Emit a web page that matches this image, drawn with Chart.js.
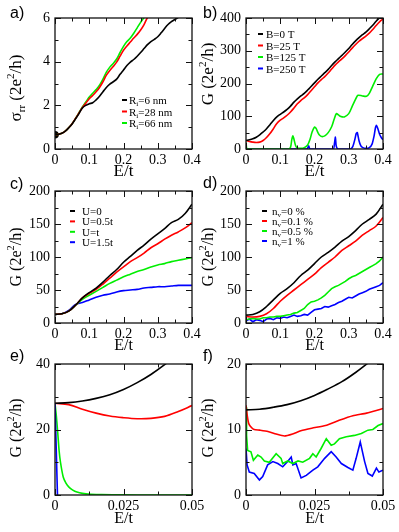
<!DOCTYPE html>
<html>
<head>
<meta charset="utf-8">
<script src="https://cdn.jsdelivr.net/npm/chart.js@4.4.1/dist/chart.umd.min.js"></script>
<style>
  body { margin: 0; background: #fff; }
  #wrap { position: relative; width: 399px; height: 532px; }
  #wrap canvas { position: absolute; left: 0; top: 0; }
</style>
</head>
<body>
<div id="wrap">
  <canvas id="pa" width="399" height="532"></canvas>
  <canvas id="pb" width="399" height="532"></canvas>
  <canvas id="pc" width="399" height="532"></canvas>
  <canvas id="pd" width="399" height="532"></canvas>
  <canvas id="pe" width="399" height="532"></canvas>
  <canvas id="pf" width="399" height="532"></canvas>
</div>
<script>
// ---- data ----
// a) sigma_rr vs E/t for three inner radii
const A_X   = [0,0.01,0.02,0.03,0.04,0.05,0.06,0.07,0.08,0.09,0.1,0.11,0.12,0.13,0.14,0.15,0.16,0.17,0.18,0.19,0.2,0.21,0.22,0.23,0.24,0.25,0.26,0.27,0.28,0.29,0.3,0.31,0.32,0.33,0.34,0.35,0.36,0.37];
const A_R6  = [0.65,0.67,0.72,0.82,0.97,1.15,1.38,1.62,1.88,2.0,2.07,2.12,2.25,2.42,2.62,2.82,2.97,3.08,3.2,3.42,3.62,3.82,3.98,4.1,4.25,4.42,4.6,4.78,4.92,5.02,5.14,5.32,5.52,5.7,5.83,5.93,6.03,6.15];
const A_R28 = [0.65,0.67,0.72,0.82,0.97,1.16,1.4,1.65,1.9,2.1,2.3,2.45,2.62,2.82,3.08,3.38,3.6,3.78,3.98,4.25,4.52,4.72,4.9,5.08,5.25,5.45,5.7,6.02,6.25];
const A_R66 = [0.65,0.67,0.72,0.82,0.97,1.16,1.4,1.66,1.93,2.15,2.38,2.55,2.72,2.92,3.2,3.52,3.75,3.92,4.12,4.42,4.7,4.92,5.08,5.3,5.55,5.8,6.02,6.25];

// b) G vs E/t for four magnetic fields
const B_X    = [0,0.01,0.02,0.03,0.04,0.05,0.06,0.07,0.08,0.09,0.1,0.11,0.12,0.13,0.14,0.15,0.16,0.17,0.18,0.19,0.2,0.21,0.22,0.23,0.24,0.25,0.26,0.27,0.28,0.29,0.3,0.31,0.32,0.33,0.34,0.35,0.36,0.37,0.38,0.39,0.4];
const B_B0   = [26,28,31,36,43,52,62,74,87,98,106,113,121,131,143,153,162,170,180,191,202,213,223,233,243,255,266,276,286,296,307,319,330,340,349,357,367,378,390,401,412];
const B_B25  = [26,23,21,20,21,26,35,47,62,78,88,95,103,113,125,138,148,156,166,178,190,202,212,221,232,244,256,266,275,285,296,308,319,329,337,345,354,365,377,388,397];
const B_X125 = [0,0.002,0.005,0.125,0.13,0.134,0.137,0.14,0.145,0.15,0.16,0.17,0.18,0.187,0.193,0.2,0.205,0.21,0.215,0.221,0.23,0.24,0.25,0.257,0.264,0.27,0.277,0.287,0.3,0.31,0.32,0.327,0.34,0.352,0.36,0.37,0.38,0.39,0.4];
const B_B125 = [20,2,0,0,5,30,40,30,10,3,2,4,12,30,52,67,62,50,42,38,40,50,68,90,108,104,99,98,108,130,152,164,162,161,170,192,214,228,229];
const B_X250 = [0,0.178,0.183,0.186,0.19,0.255,0.258,0.261,0.263,0.266,0.27,0.305,0.312,0.318,0.322,0.325,0.33,0.335,0.34,0.35,0.36,0.368,0.374,0.378,0.381,0.385,0.39,0.395,0.4];
const B_B250 = [0,0,10,0,0,0,15,36,12,2,0,0,8,30,48,50,25,10,5,2,4,15,40,65,72,62,45,35,28];

// c) G vs E/t for disorder strength U
const C_X   = [0,0.02,0.04,0.06,0.08,0.1,0.12,0.14,0.16,0.18,0.2,0.22,0.24,0.26,0.28,0.3,0.32,0.34,0.36,0.38,0.4];
const C_U0  = [13,14,18,27,38,46,53,62,72,81,92,101,110,118,127,135,143,152,157,166,180];
const C_U05 = [13,14,18,27,38,45,51,59,68,77,85,93,99,106,114,120,127,133,138,144,152];
const C_U1  = [13,14,18,27,36,42,48,54,60,65,70,74,78,81,85,88,90,93,95,97,99];
const C_U15 = [13,14,19,28,31,35,39,42,44,47,49,50,51,53,54,55,55,56,57,57,57];

// d) G vs E/t for vacancy concentration n_v
const D_X   = [0,0.02,0.04,0.06,0.08,0.1,0.12,0.14,0.16,0.18,0.2,0.22,0.24,0.26,0.28,0.3,0.32,0.34,0.36,0.38,0.4];
const D_N0  = [12,13,17,25,35,45,52,61,72,80,90,100,107,115,124,131,140,150,157,165,180];
const D_N01 = [10,9,10,14,22,33,42,50,58,66,74,84,92,100,110,117,124,133,140,147,160];
const D_XF  = [0,0.01,0.02,0.03,0.04,0.05,0.06,0.07,0.08,0.09,0.1,0.11,0.12,0.13,0.14,0.15,0.16,0.17,0.18,0.19,0.2,0.21,0.22,0.23,0.24,0.25,0.26,0.27,0.28,0.29,0.3,0.31,0.32,0.33,0.34,0.35,0.36,0.37,0.38,0.39,0.4];
const D_N05 = [5,6,7,6,6,8,8,9,9,10,10,11,12,13,15,16,19,22,28,32,33,35,38,42,47,52,55,57,60,63,67,70,72,75,78,81,84,87,90,94,100];
const D_N1  = [3,6,2,5,4,2,6,7,5,8,7,9,8,10,12,10,11,13,12,16,20,21,22,25,24,26,28,31,33,36,39,38,41,44,46,48,51,53,55,57,61];

// e) low-energy zoom of c)
const E_X  = [0,0.005,0.01,0.015,0.02,0.025,0.03,0.035,0.04,0.045,0.05];
const E_U0  = [28,28.2,28.7,29.5,30.6,32.2,34.3,36.8,39.8,43.2];
const E_U05 = [28,27.6,26.2,25.0,24.1,23.6,23.3,23.4,24.0,25.5,27.3];
const E_XG  = [0,0.0005,0.001,0.0015,0.002,0.003,0.004,0.005,0.0065,0.008,0.01,0.013,0.017,0.025,0.035,0.05];
const E_U1  = [28,24,19,13.5,10,5.5,3.6,2.5,1.5,0.9,0.5,0.25,0.1,0.05,0,0];
const E_XB  = [0,0.0009,0.0012];
const E_U15 = [28,0,0];

// f) low-energy zoom of d)
const F_X   = [0,0.005,0.01,0.015,0.02,0.025,0.03,0.035,0.04,0.045];
const F_N0  = [13,13.1,13.4,13.8,14.4,15.2,16.2,17.3,18.7,20.3];
const F_XR  = [0,0.0005,0.001,0.002,0.003,0.005,0.008,0.011,0.014,0.017,0.02,0.024,0.029,0.034,0.039,0.044,0.05];
const F_N01 = [13.7,12,10.9,10.3,10.0,9.9,9.7,9.3,9.0,9.3,9.8,10.2,10.6,11.4,12.1,12.5,13.2];
const F_XG  = [0,0.0002,0.0006,0.0018,0.0027,0.0043,0.0055,0.0067,0.0085,0.011,0.0128,0.0134,0.0152,0.0171,0.019,0.0207,0.0232,0.0244,0.0256,0.0274,0.0293,0.0311,0.0323,0.0341,0.0366,0.0396,0.0421,0.0445,0.0463,0.0482,0.05];
const F_N05 = [13.4,9.1,6.8,6.6,5.3,6.1,5.8,5.2,5.0,6.3,5.6,4.8,5.2,4.8,5.2,5.0,5.6,6.3,5.8,7.1,8.6,7.6,7.8,8.6,8.9,9.1,9.4,9.9,10.0,10.6,10.9];
const F_XB  = [0,0.0004,0.0012,0.003,0.0049,0.0061,0.0079,0.0098,0.0116,0.0134,0.0152,0.0165,0.0171,0.0183,0.0201,0.022,0.0244,0.0262,0.0287,0.0311,0.0329,0.0348,0.0372,0.039,0.0402,0.0417,0.0433,0.0445,0.0461,0.0476,0.0485,0.05];
const F_N1  = [7.1,4.6,3.5,3.3,2.3,2.8,4.6,5.1,4.8,4.3,5.1,5.8,4.6,4.8,2.6,3.0,3.8,4.3,5.6,6.6,5.8,4.8,4.2,3.8,5.6,8.1,5.1,3.3,2.9,4.1,3.5,3.8];

const BLACK = '#000000';
const RED   = '#ff0000';
const GREEN = '#00ee00';
const BLUE  = '#0000ff';
const SERIF = '"Liberation Serif", "DejaVu Serif", serif';
const SANS  = '"Liberation Sans", Arial, sans-serif';
const W = 399, H = 532;

const zip = (xs, ys) => ys.map((y, i) => ({ x: xs[i], y }));

// tiny markup: ^x or ^{..} superscript, _x or _{..} subscript
function parseRich(s) {
  const out = []; let i = 0, buf = '';
  while (i < s.length) {
    const c = s[i];
    if (c === '^' || c === '_') {
      if (buf) { out.push({ t: buf, m: 0 }); buf = ''; }
      let t;
      if (s[i + 1] === '{') { const j = s.indexOf('}', i); t = s.slice(i + 2, j); i = j + 1; }
      else { t = s[i + 1]; i += 2; }
      out.push({ t, m: c === '^' ? 1 : -1 });
    } else { buf += c; i++; }
  }
  if (buf) out.push({ t: buf, m: 0 });
  return out;
}

function drawRich(ctx, s, x, y, size, family, align) {
  const segs = parseRich(s);
  const fontOf = m => (m ? size * 0.65 : size) + 'px ' + family;
  let w = 0;
  segs.forEach(g => { ctx.font = fontOf(g.m); g.w = ctx.measureText(g.t).width; w += g.w; });
  let cx = align === 'center' ? x - w / 2 : x;
  segs.forEach(g => {
    ctx.font = fontOf(g.m);
    const dy = g.m > 0 ? -size * 0.4 : g.m < 0 ? size * 0.22 : 0;
    ctx.fillText(g.t, cx, y + dy);
    cx += g.w;
  });
}

// xmgrace-like frame: box, inward major/minor ticks on all sides, titles, panel tag, legend
const framePlugin = {
  id: 'frame',
  afterDraw(chart) {
    const o = chart.options.plugins.frame;
    if (!o) return;
    const { ctx, chartArea: a, scales: { x, y } } = chart;
    ctx.save();
    ctx.strokeStyle = '#111';
    ctx.lineWidth = 1.3;
    ctx.strokeRect(a.left, a.top, a.right - a.left, a.bottom - a.top);
    ctx.lineWidth = 1;
    const eps = 1e-9;
    for (let v = x.min; v <= x.max + eps; v += o.xMinor) {
      const major = Math.abs(v / o.xMajor - Math.round(v / o.xMajor)) < 1e-6;
      const len = major ? 6 : 3.5;
      const px = Math.round(x.getPixelForValue(v)) + 0.5;
      ctx.beginPath();
      ctx.moveTo(px, a.bottom); ctx.lineTo(px, a.bottom - len);
      ctx.moveTo(px, a.top); ctx.lineTo(px, a.top + len);
      ctx.stroke();
    }
    for (let v = y.min; v <= y.max + eps; v += o.yMinor) {
      const major = Math.abs(v / o.yMajor - Math.round(v / o.yMajor)) < 1e-6;
      const len = major ? 6 : 3.5;
      const py = Math.round(y.getPixelForValue(v)) + 0.5;
      ctx.beginPath();
      ctx.moveTo(a.left, py); ctx.lineTo(a.left + len, py);
      ctx.moveTo(a.right, py); ctx.lineTo(a.right - len, py);
      ctx.stroke();
    }
    ctx.fillStyle = '#000';
    ctx.textBaseline = 'alphabetic';
    // axis titles
    drawRich(ctx, 'E/t', (a.left + a.right) / 2, a.bottom + o.titleSize * 0.35 + o.xTitleGap, o.titleSize, SERIF, 'center');
    ctx.save();
    ctx.translate(o.yTitleX, o.yTitleY);
    ctx.rotate(-Math.PI / 2);
    drawRich(ctx, o.yTitle, 0, o.titleSize * 0.35, o.titleSize, SERIF, 'center');
    ctx.restore();
    // panel tag
    ctx.font = '16px ' + SANS;
    ctx.fillText(o.tag, o.tagX, o.tagY);
    // legend
    if (o.legend) {
      const L = o.legend;
      L.items.forEach((it, i) => {
        const ly = L.y + i * L.dy;
        ctx.strokeStyle = it.color;
        ctx.lineWidth = 2;
        ctx.beginPath();
        ctx.moveTo(L.x, ly); ctx.lineTo(L.x + 5, ly);
        ctx.stroke();
        drawRich(ctx, it.text, L.tx, ly + 4, 11, SERIF, 'left');
      });
    }
    ctx.restore();
  }
};
Chart.register(framePlugin);

const fmt = v => String(+(+v).toFixed(4));

function makePanel(id, p) {
  const [L, T, R, B] = p.plot;
  const XH = 40;
  new Chart(document.getElementById(id), {
    type: 'line',
    data: {
      datasets: p.series.map(s => ({
        data: zip(s.x, s.y),
        borderColor: s.color,
        backgroundColor: s.color,
        borderWidth: 1.6,
        pointRadius: s.dot || 0,
        showLine: !s.dot,
        tension: s.tension == null ? 0.35 : s.tension,
        fill: false,
      })),
    },
    options: {
      responsive: false, animation: false, devicePixelRatio: 1,
      layout: { autoPadding: false, padding: { left: 0, top: T, right: W - R, bottom: H - B - XH } },
      plugins: { legend: { display: false }, tooltip: { enabled: false }, frame: p.frame },
      scales: {
        x: {
          type: 'linear', min: p.xMin, max: p.xMax,
          afterFit: s => { s.height = XH; },
          grid: { display: false, drawTicks: false }, border: { display: false },
          ticks: { stepSize: p.frame.xMajor, autoSkip: false, maxRotation: 0, padding: 3, color: '#000', font: { family: SERIF, size: 14 }, callback: fmt },
        },
        y: {
          type: 'linear', min: p.yMin, max: p.yMax,
          afterFit: s => { s.width = L; },
          grid: { display: false, drawTicks: false }, border: { display: false },
          ticks: { stepSize: p.frame.yMajor, autoSkip: false, padding: 5, color: '#000', font: { family: SERIF, size: 14 }, callback: fmt },
        },
      },
    },
  });
}

const G_TITLE = 'G (2e^2/h)';

makePanel('pa', {
  plot: [55, 18, 192, 149], xMin: 0, xMax: 0.4, yMin: 0, yMax: 6,
  series: [
    { x: A_X, y: A_R6, color: BLACK },
    { x: A_X, y: A_R28, color: RED },
    { x: A_X, y: A_R66, color: GREEN },
    { x: [A_X[0]], y: [A_R6[0]], color: BLACK, dot: 3 },
  ],
  frame: {
    xMajor: 0.1, xMinor: 0.05, yMajor: 2, yMinor: 1,
    titleSize: 17, xTitleGap: 21, yTitle: '\u03c3_{rr} (2e^2/h)', yTitleX: 15, yTitleY: 88,
    tag: 'a)', tagX: 10, tagY: 18,
    legend: { x: 122, tx: 129, y: 100, dy: 11.5, items: [
      { text: 'R_i=6 nm', color: BLACK }, { text: 'R_i=28 nm', color: RED }, { text: 'R_i=66 nm', color: GREEN },
    ] },
  },
});

makePanel('pb', {
  plot: [246, 18, 383, 149], xMin: 0, xMax: 0.4, yMin: 0, yMax: 400,
  series: [
    { x: B_X, y: B_B0, color: BLACK },
    { x: B_X, y: B_B25, color: RED },
    { x: B_X125, y: B_B125, color: GREEN, tension: 0.3 },
    { x: B_X250, y: B_B250, color: BLUE, tension: 0.2 },
  ],
  frame: {
    xMajor: 0.1, xMinor: 0.05, yMajor: 100, yMinor: 50,
    titleSize: 17, xTitleGap: 21, yTitle: G_TITLE, yTitleX: 207, yTitleY: 74,
    tag: 'b)', tagX: 203, tagY: 18,
    legend: { x: 258, tx: 266, y: 34, dy: 11.5, items: [
      { text: 'B=0 T', color: BLACK }, { text: 'B=25 T', color: RED },
      { text: 'B=125 T', color: GREEN }, { text: 'B=250 T', color: BLUE },
    ] },
  },
});

makePanel('pc', {
  plot: [55, 191, 192, 323], xMin: 0, xMax: 0.4, yMin: 0, yMax: 200,
  series: [
    { x: C_X, y: C_U0, color: BLACK },
    { x: C_X, y: C_U05, color: RED },
    { x: C_X, y: C_U1, color: GREEN },
    { x: C_X, y: C_U15, color: BLUE },
  ],
  frame: {
    xMajor: 0.1, xMinor: 0.05, yMajor: 50, yMinor: 25,
    titleSize: 16, xTitleGap: 21, yTitle: G_TITLE, yTitleX: 15, yTitleY: 257,
    tag: 'c)', tagX: 10, tagY: 189,
    legend: { x: 70, tx: 82, y: 211, dy: 10.4, items: [
      { text: 'U=0', color: BLACK }, { text: 'U=0.5t', color: RED },
      { text: 'U=t', color: GREEN }, { text: 'U=1.5t', color: BLUE },
    ] },
  },
});

makePanel('pd', {
  plot: [246, 191, 383, 323], xMin: 0, xMax: 0.4, yMin: 0, yMax: 200,
  series: [
    { x: D_X, y: D_N0, color: BLACK },
    { x: D_X, y: D_N01, color: RED },
    { x: D_XF, y: D_N05, color: GREEN, tension: 0 },
    { x: D_XF, y: D_N1, color: BLUE, tension: 0 },
  ],
  frame: {
    xMajor: 0.1, xMinor: 0.05, yMajor: 50, yMinor: 25,
    titleSize: 16, xTitleGap: 21, yTitle: G_TITLE, yTitleX: 207, yTitleY: 257,
    tag: 'd)', tagX: 203, tagY: 188,
    legend: { x: 262, tx: 272, y: 211, dy: 10, items: [
      { text: 'n_v=0 %', color: BLACK }, { text: 'n_v=0.1 %', color: RED },
      { text: 'n_v=0.5 %', color: GREEN }, { text: 'n_v=1 %', color: BLUE },
    ] },
  },
});

makePanel('pe', {
  plot: [55, 364, 192, 495], xMin: 0, xMax: 0.05, yMin: 0, yMax: 40,
  series: [
    { x: E_X, y: E_U0, color: BLACK },
    { x: E_X, y: E_U05, color: RED },
    { x: E_XB, y: E_U15, color: BLUE, tension: 0 },
    { x: E_XG, y: E_U1, color: GREEN, tension: 0.2 },
  ],
  frame: {
    xMajor: 0.025, xMinor: 0.0125, yMajor: 20, yMinor: 10,
    titleSize: 16, xTitleGap: 22, yTitle: G_TITLE, yTitleX: 15, yTitleY: 428,
    tag: 'e)', tagX: 10, tagY: 361,
  },
});

makePanel('pf', {
  plot: [246, 364, 383, 495], xMin: 0, xMax: 0.05, yMin: 0, yMax: 20,
  series: [
    { x: F_X, y: F_N0, color: BLACK },
    { x: F_XR, y: F_N01, color: RED, tension: 0.2 },
    { x: F_XG, y: F_N05, color: GREEN, tension: 0 },
    { x: F_XB, y: F_N1, color: BLUE, tension: 0 },
  ],
  frame: {
    xMajor: 0.025, xMinor: 0.0125, yMajor: 10, yMinor: 5,
    titleSize: 16, xTitleGap: 22, yTitle: G_TITLE, yTitleX: 207, yTitleY: 428,
    tag: 'f)', tagX: 203, tagY: 361,
  },
});
</script>
</body>
</html>
